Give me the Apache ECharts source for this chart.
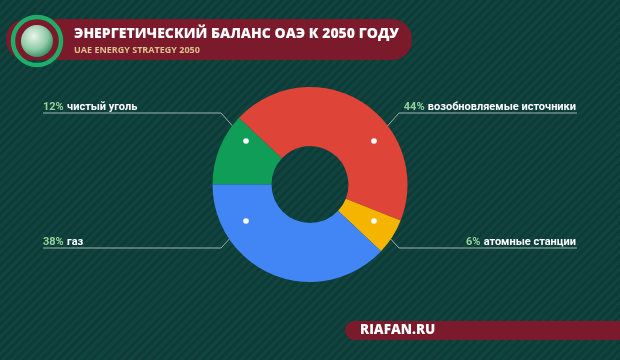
<!DOCTYPE html>
<html>
<head>
<meta charset="utf-8">
<script src="https://cdn.jsdelivr.net/npm/echarts@6/dist/echarts.min.js"></script>
<style>
html,body{margin:0;padding:0;}
#chart{width:620px;height:360px;background:#0e3d3a repeating-linear-gradient(135deg,#0d3b38 0px,#0d3b38 3px,#11433f 3px,#11433f 6px);}
</style>
</head>
<body>
<div id="chart"></div>
<script>
// ---- data ----
const categories = ['чистый уголь', 'возобновляемые источники', 'атомные станции', 'газ'];
const shares = [12, 44, 6, 38];
const palette = ['#0F9D58', '#DE4538', '#F4B400', '#4285F4'];
const titleText = 'ЭНЕРГЕТИЧЕСКИЙ БАЛАНС ОАЭ К 2050 ГОДУ';
const subtitleText = 'UAE ENERGY STRATEGY 2050';
const brandText = 'RIAFAN.RU';

// ---- layout ----
const CX = 310, CY = 184.5, R0 = 38.5, R1 = 97.5;
const guides = [
  {sx: -1, dotDy: -43.5, lineY: 113},
  {sx: 1, dotDy: -43.5, lineY: 113},
  {sx: 1, dotDy: 36.5, lineY: 248},
  {sx: -1, dotDy: 36.5, lineY: 248}
];
const DOT_DX = 64, ELBOW_DX = 25, LEFT_X = 43, RIGHT_X = 577;
const RED = '#7a1a2b';
const FONT = 'Open Sans';
const LFONT = 'Roboto';

function guidePts(i) {
  const g = guides[i];
  const dx = CX + g.sx * DOT_DX, dy = CY + g.dotDy;
  const ex = dx + g.sx * ELBOW_DX;
  const endX = g.sx < 0 ? LEFT_X : RIGHT_X;
  return [[dx, dy], [ex, g.lineY], [endX, g.lineY]];
}

const chart = echarts.init(document.getElementById('chart'), null, {renderer: 'canvas'});

const dots = shares.map((v, i) => {
  const p = guidePts(i)[0];
  return {type: 'circle', z: 100, shape: {cx: p[0], cy: p[1], r: 2.8}, style: {fill: '#ffffff'}};
});

chart.setOption({
  backgroundColor: 'transparent',
  title: {
    text: titleText,
    subtext: subtitleText,
    left: 69, top: 22,
    itemGap: 5,
    textStyle: {color: '#ffffff', fontFamily: FONT, fontWeight: 800, fontSize: 14},
    subtextStyle: {color: '#dcc38e', fontFamily: FONT, fontWeight: 700, fontSize: 9}
  },
  graphic: {
    elements: [
      {type: 'rect', z: -10, shape: {x: 6, y: 19, width: 406, height: 41, r: 20}, style: {fill: RED}},
      {type: 'circle', z: -9, shape: {cx: 37, cy: 41, r: 24}, style: {fill: 'none', stroke: '#1fae6a', lineWidth: 4.5}},
      {type: 'circle', z: -9, shape: {cx: 37, cy: 41, r: 16}, style: {
        fill: {type: 'radial', x: 0.4, y: 0.35, r: 0.7, colorStops: [{offset: 0, color: '#e8f5ec'}, {offset: 0.6, color: '#8fcaa6'}, {offset: 1, color: '#2e8a5c'}]}
      }},
      {type: 'rect', z: -10, shape: {x: 345, y: 321, width: 300, height: 19, r: 10}, style: {fill: RED}},
      {type: 'text', z: 10, x: 360, y: 330.5, style: {text: brandText, fill: '#ffffff', font: '800 13.5px "' + FONT + '"', verticalAlign: 'middle'}},
      ...dots
    ]
  },
  series: [{
    type: 'pie',
    center: [CX, CY],
    radius: [R0, R1],
    startAngle: 180,
    clockwise: true,
    avoidLabelOverlap: false,
    silent: true,
    data: categories.map((c, i) => ({name: c, value: shares[i], itemStyle: {color: palette[i]}})),
    label: {
      show: true,
      position: 'outside',
      formatter: p => '{p|' + p.value + '%} {t|' + p.name + '}',
      rich: {
        p: {color: '#93d59a', fontFamily: LFONT, fontWeight: 700, fontSize: 11},
        t: {color: '#ffffff', fontFamily: LFONT, fontWeight: 700, fontSize: 11}
      }
    },
    labelLine: {show: true, lineStyle: {color: '#9bb7ae', width: 1}},
    labelLayout: function (params) {
      const i = params.dataIndex;
      const g = guides[i];
      return {
        x: g.sx < 0 ? LEFT_X : RIGHT_X - 1,
        y: g.lineY - 6,
        align: g.sx < 0 ? 'left' : 'right',
        verticalAlign: 'middle',
        labelLinePoints: guidePts(i)
      };
    }
  }]
});
</script>
</body>
</html>
